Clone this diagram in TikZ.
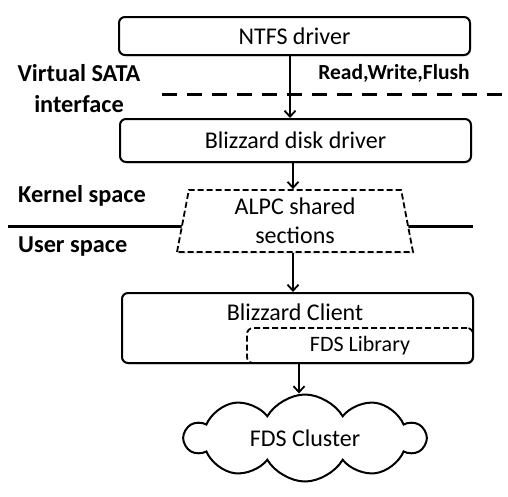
\documentclass[tikz,border=0pt]{standalone}
\usepackage{fontspec}
\setmainfont{Carlito}
\usetikzlibrary{shapes.geometric,shapes.symbols,arrows.meta,shadows}
\begin{document}
\begin{tikzpicture}[x=1pt,y=-1pt,
  shad/.style={drop shadow={opacity=0.25,shadow xshift=1pt,shadow yshift=-1.5pt}},
  box/.style={draw, line width=2pt, rounded corners=6pt, fill=white, inner sep=0pt,
    font=\fontsize{24}{29}\selectfont, shad},
  dashbox/.style={draw, line width=1.8pt, dash pattern=on 6pt off 3pt},
  lbl/.style={font=\bfseries\fontsize{24.3}{31}\selectfont, align=center, inner sep=0pt},
  arr/.style={line width=1.8pt, -{Straight Barb[length=6pt,width=11pt]}},
  thick line/.style={line width=3pt}]
\useasboundingbox (0,0) rectangle (508,496);

% separators
\coordinate (sl) at (162,94);
\coordinate (sr) at (508,94);
\draw[thick line, dash pattern=on 15pt off 10pt] (sl) -- (sr);
\coordinate (kl) at (8,226);
\coordinate (kr) at (473,226);
\draw[thick line] (kl) -- (kr);

% labels
\node[lbl] (vsata) at (79,89) {Virtual SATA\\interface};
\node[lbl, font=\bfseries\fontsize{21.5}{26}\selectfont] (rwf) at (394,73) {Read,Write,Flush};
\node[lbl, anchor=west] (kspace) at (18,196) {Kernel space};
\node[lbl, anchor=west] (uspace) at (18,247) {User space};

% boxes
\node[box, minimum width=351pt, minimum height=38pt] (ntfs) at (294.5,36) {NTFS driver};
\node[box, minimum width=351pt, minimum height=43pt] (disk) at (295.5,140.5) {Blizzard disk driver};
\node[trapezium, trapezium angle=75.5, trapezium stretches body, dashbox,
  fill=white, minimum width=236pt, minimum height=62pt,
  inner sep=0pt, align=center, font=\fontsize{24}{29}\selectfont, shad] (alpc) at (295,221)
  {ALPC shared\\sections};
\node[box, minimum width=351pt, minimum height=70pt] (client) at (297.5,328) {};
\node[inner sep=0pt, font=\fontsize{24}{29}\selectfont] (clientlbl) at (295,312) {Blizzard Client};
\node[dashbox, rounded corners=6pt, inner sep=0pt,
  minimum width=226pt, minimum height=35pt, font=\fontsize{22}{26}\selectfont]
  (fds) at (360,345.5) {FDS Library};
\node[cloud, draw, line width=2pt, cloud puffs=10, cloud puff arc=120, aspect=2.7,
  minimum width=240pt, minimum height=87pt, inner sep=0pt, fill=white,
  font=\fontsize{24}{29}\selectfont] (cluster) at (305,438) {FDS Cluster};

% connectors
\draw[arr] ([xshift=-4.5pt]ntfs.south) -- ([xshift=-5.5pt]disk.north);
\draw[arr] ([xshift=-2.5pt]disk.south) -- ([xshift=-2pt]alpc.north);
\draw[arr] ([xshift=-2pt]alpc.south) -- ([xshift=-4.5pt]client.north);
\draw[arr] ([xshift=1.5pt]client.south) -- ([xshift=-6pt]cluster.north);
\end{tikzpicture}
\end{document}
